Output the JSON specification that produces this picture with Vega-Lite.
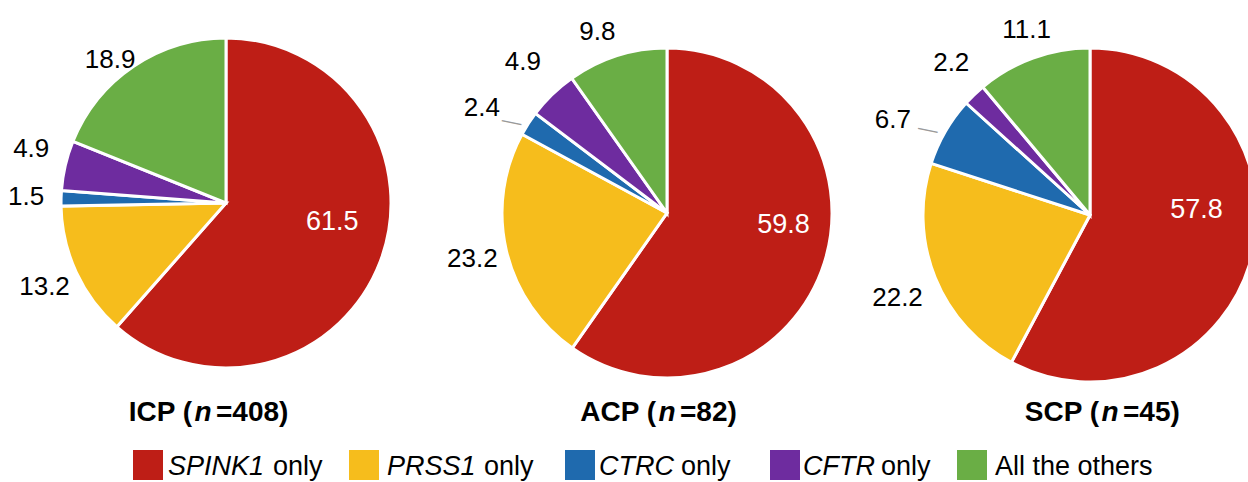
{
  "$schema": "https://vega.github.io/schema/vega-lite/v6.json",
  "padding": 0,
  "background": "white",
  "spacing": 0,
  "config": {"view": {"stroke": null}, "font": "Liberation Sans"},
  "datasets": {
    "shares": [
      {"group": "ICP", "category": "SPINK1 only", "value": 61.5, "rank": 1},
      {"group": "ICP", "category": "PRSS1 only", "value": 13.2, "rank": 2},
      {"group": "ICP", "category": "CTRC only", "value": 1.5, "rank": 3},
      {"group": "ICP", "category": "CFTR only", "value": 4.9, "rank": 4},
      {"group": "ICP", "category": "All the others", "value": 18.9, "rank": 5},
      {"group": "ACP", "category": "SPINK1 only", "value": 59.8, "rank": 1},
      {"group": "ACP", "category": "PRSS1 only", "value": 23.2, "rank": 2},
      {"group": "ACP", "category": "CTRC only", "value": 2.4, "rank": 3},
      {"group": "ACP", "category": "CFTR only", "value": 4.9, "rank": 4},
      {"group": "ACP", "category": "All the others", "value": 9.8, "rank": 5},
      {"group": "SCP", "category": "SPINK1 only", "value": 57.8, "rank": 1},
      {"group": "SCP", "category": "PRSS1 only", "value": 22.2, "rank": 2},
      {"group": "SCP", "category": "CTRC only", "value": 6.7, "rank": 3},
      {"group": "SCP", "category": "CFTR only", "value": 2.2, "rank": 4},
      {"group": "SCP", "category": "All the others", "value": 11.1, "rank": 5}
    ],
    "titles": [
      {"group": "ICP", "head": "ICP (", "var": "n", "tail": "=408)"},
      {"group": "ACP", "head": "ACP (", "var": "n", "tail": "=82)"},
      {"group": "SCP", "head": "SCP (", "var": "n", "tail": "=45)"}
    ],
    "legend": [
      {"category": "SPINK1 only", "gene": "SPINK1", "suffix": "only"},
      {"category": "PRSS1 only", "gene": "PRSS1", "suffix": "only"},
      {"category": "CTRC only", "gene": "CTRC", "suffix": "only"},
      {"category": "CFTR only", "gene": "CFTR", "suffix": "only"},
      {"category": "All the others", "gene": "", "suffix": "All the others"}
    ]
  },
  "vconcat": [
    {
      "spacing": 0,
      "bounds": "flush",
      "resolve": {"scale": {"theta": "independent"}},
      "hconcat": [
        {
          "width": 452, "height": 430,
          "layer": [
            {"data": {"name": "shares"}, "transform": [{"filter": "datum.group === 'ICP'"}],
             "mark": {"type": "arc", "outerRadius": 165, "stroke": "white", "strokeWidth": 3, "yOffset": -12},
             "encoding": {"theta": {"field": "value", "type": "quantitative", "stack": true}, "order": {"field": "rank", "type": "quantitative"},
               "color": {"field": "category", "type": "nominal", "legend": null, "scale": {"domain": ["SPINK1 only", "PRSS1 only", "CTRC only", "CFTR only", "All the others"], "range": ["#BE1E16", "#F6BD1C", "#1F6AAE", "#6E2C9F", "#6AAE45"]}}}},
            {"data": {"name": "shares"}, "transform": [{"filter": "datum.group === 'ICP'"}],
             "mark": {"type": "text", "radius": 200, "fontSize": 26, "yOffset": -12},
             "encoding": {"theta": {"field": "value", "type": "quantitative", "stack": true}, "order": {"field": "rank", "type": "quantitative"}, "detail": {"field": "category", "type": "nominal"},
               "text": {"field": "value", "type": "quantitative", "format": ".1f"}, "color": {"value": "#000000"},
               "opacity": {"condition": {"test": "datum.category === 'PRSS1 only' || datum.category === 'CTRC only'", "value": 1}, "value": 0}}},
            {"data": {"name": "shares"}, "transform": [{"filter": "datum.group === 'ICP'"}],
             "mark": {"type": "text", "radius": 200, "fontSize": 26, "yOffset": -12, "dy": -9},
             "encoding": {"theta": {"field": "value", "type": "quantitative", "stack": true}, "order": {"field": "rank", "type": "quantitative"}, "detail": {"field": "category", "type": "nominal"},
               "text": {"field": "value", "type": "quantitative", "format": ".1f"}, "color": {"value": "#000000"},
               "opacity": {"condition": {"test": "datum.category === 'CFTR only'", "value": 1}, "value": 0}}},
            {"data": {"name": "shares"}, "transform": [{"filter": "datum.group === 'ICP'"}],
             "mark": {"type": "text", "radius": 200, "fontSize": 26, "yOffset": -12, "dx": -4, "dy": 23},
             "encoding": {"theta": {"field": "value", "type": "quantitative", "stack": true}, "order": {"field": "rank", "type": "quantitative"}, "detail": {"field": "category", "type": "nominal"},
               "text": {"field": "value", "type": "quantitative", "format": ".1f"}, "color": {"value": "#000000"},
               "opacity": {"condition": {"test": "datum.category === 'All the others'", "value": 1}, "value": 0}}},
            {"data": {"name": "shares"}, "transform": [{"filter": "datum.group === 'ICP'"}],
             "mark": {"type": "text", "radius": 120, "fontSize": 27, "yOffset": -12, "dx": -6, "dy": -23},
             "encoding": {"theta": {"field": "value", "type": "quantitative", "stack": true}, "order": {"field": "rank", "type": "quantitative"}, "detail": {"field": "category", "type": "nominal"},
               "text": {"field": "value", "type": "quantitative", "format": ".1f"}, "color": {"value": "#ffffff"},
               "opacity": {"condition": {"test": "datum.category === 'SPINK1 only'", "value": 1}, "value": 0}}},
            {"data": {"name": "titles"}, "transform": [{"filter": "datum.group === 'ICP'"}],
             "mark": {"type": "text", "fontSize": 28, "fontWeight": "bold", "align": "right", "baseline": "alphabetic", "dx": -34, "dy": 206},
             "encoding": {"text": {"field": "head", "type": "nominal"}}},
            {"data": {"name": "titles"}, "transform": [{"filter": "datum.group === 'ICP'"}],
             "mark": {"type": "text", "fontSize": 28, "fontWeight": "bold", "fontStyle": "italic", "align": "center", "baseline": "alphabetic", "dx": -23, "dy": 206},
             "encoding": {"text": {"field": "var", "type": "nominal"}}},
            {"data": {"name": "titles"}, "transform": [{"filter": "datum.group === 'ICP'"}],
             "mark": {"type": "text", "fontSize": 28, "fontWeight": "bold", "align": "left", "baseline": "alphabetic", "dx": -10, "dy": 206},
             "encoding": {"text": {"field": "tail", "type": "nominal"}}}
          ]
        },
        {
          "width": 430, "height": 430,
          "layer": [
            {"data": {"name": "shares"}, "transform": [{"filter": "datum.group === 'ACP'"}],
             "mark": {"type": "arc", "outerRadius": 165, "stroke": "white", "strokeWidth": 3, "yOffset": -2},
             "encoding": {"theta": {"field": "value", "type": "quantitative", "stack": true}, "order": {"field": "rank", "type": "quantitative"},
               "color": {"field": "category", "type": "nominal", "legend": null, "scale": {"domain": ["SPINK1 only", "PRSS1 only", "CTRC only", "CFTR only", "All the others"], "range": ["#BE1E16", "#F6BD1C", "#1F6AAE", "#6E2C9F", "#6AAE45"]}}}},
            {"data": {"name": "shares"}, "transform": [{"filter": "datum.group === 'ACP'"}],
             "mark": {"type": "text", "radius": 200, "fontSize": 26, "yOffset": -2},
             "encoding": {"theta": {"field": "value", "type": "quantitative", "stack": true}, "order": {"field": "rank", "type": "quantitative"}, "detail": {"field": "category", "type": "nominal"},
               "text": {"field": "value", "type": "quantitative", "format": ".1f"}, "color": {"value": "#000000"},
               "opacity": {"condition": {"test": "datum.category === 'PRSS1 only'", "value": 1}, "value": 0}}},
            {"data": {"name": "shares"}, "transform": [{"filter": "datum.group === 'ACP'"}],
             "mark": {"type": "text", "radius": 200, "fontSize": 26, "yOffset": -2, "dx": -17, "dy": 3},
             "encoding": {"theta": {"field": "value", "type": "quantitative", "stack": true}, "order": {"field": "rank", "type": "quantitative"}, "detail": {"field": "category", "type": "nominal"},
               "text": {"field": "value", "type": "quantitative", "format": ".1f"}, "color": {"value": "#000000"},
               "opacity": {"condition": {"test": "datum.category === 'CTRC only'", "value": 1}, "value": 0}}},
            {"data": {"name": "shares"}, "transform": [{"filter": "datum.group === 'ACP'"}],
             "mark": {"type": "text", "radius": 200, "fontSize": 20, "yOffset": -2, "dx": 16, "dy": 14, "angle": 12, "text": "—"},
             "encoding": {"theta": {"field": "value", "type": "quantitative", "stack": true}, "order": {"field": "rank", "type": "quantitative"}, "detail": {"field": "category", "type": "nominal"},
               "color": {"value": "#9a9a9a"},
               "opacity": {"condition": {"test": "datum.category === 'CTRC only'", "value": 1}, "value": 0}}},
            {"data": {"name": "shares"}, "transform": [{"filter": "datum.group === 'ACP'"}],
             "mark": {"type": "text", "radius": 200, "fontSize": 26, "yOffset": -2, "dx": -5, "dy": -7},
             "encoding": {"theta": {"field": "value", "type": "quantitative", "stack": true}, "order": {"field": "rank", "type": "quantitative"}, "detail": {"field": "category", "type": "nominal"},
               "text": {"field": "value", "type": "quantitative", "format": ".1f"}, "color": {"value": "#000000"},
               "opacity": {"condition": {"test": "datum.category === 'CFTR only'", "value": 1}, "value": 0}}},
            {"data": {"name": "shares"}, "transform": [{"filter": "datum.group === 'ACP'"}],
             "mark": {"type": "text", "radius": 200, "fontSize": 26, "yOffset": -2, "dx": -9, "dy": 10},
             "encoding": {"theta": {"field": "value", "type": "quantitative", "stack": true}, "order": {"field": "rank", "type": "quantitative"}, "detail": {"field": "category", "type": "nominal"},
               "text": {"field": "value", "type": "quantitative", "format": ".1f"}, "color": {"value": "#000000"},
               "opacity": {"condition": {"test": "datum.category === 'All the others'", "value": 1}, "value": 0}}},
            {"data": {"name": "shares"}, "transform": [{"filter": "datum.group === 'ACP'"}],
             "mark": {"type": "text", "radius": 120, "fontSize": 27, "yOffset": -2, "dx": 2, "dy": -24},
             "encoding": {"theta": {"field": "value", "type": "quantitative", "stack": true}, "order": {"field": "rank", "type": "quantitative"}, "detail": {"field": "category", "type": "nominal"},
               "text": {"field": "value", "type": "quantitative", "format": ".1f"}, "color": {"value": "#ffffff"},
               "opacity": {"condition": {"test": "datum.category === 'SPINK1 only'", "value": 1}, "value": 0}}},
            {"data": {"name": "titles"}, "transform": [{"filter": "datum.group === 'ACP'"}],
             "mark": {"type": "text", "fontSize": 28, "fontWeight": "bold", "align": "right", "baseline": "alphabetic", "dx": -11, "dy": 206},
             "encoding": {"text": {"field": "head", "type": "nominal"}}},
            {"data": {"name": "titles"}, "transform": [{"filter": "datum.group === 'ACP'"}],
             "mark": {"type": "text", "fontSize": 28, "fontWeight": "bold", "fontStyle": "italic", "align": "center", "baseline": "alphabetic", "dx": 0, "dy": 206},
             "encoding": {"text": {"field": "var", "type": "nominal"}}},
            {"data": {"name": "titles"}, "transform": [{"filter": "datum.group === 'ACP'"}],
             "mark": {"type": "text", "fontSize": 28, "fontWeight": "bold", "align": "left", "baseline": "alphabetic", "dx": 13, "dy": 206},
             "encoding": {"text": {"field": "tail", "type": "nominal"}}}
          ]
        },
        {
          "width": 366, "height": 430,
          "layer": [
            {"data": {"name": "shares"}, "transform": [{"filter": "datum.group === 'SCP'"}],
             "mark": {"type": "arc", "outerRadius": 167, "stroke": "white", "strokeWidth": 3, "xOffset": 25, "yOffset": 0, "clip": true},
             "encoding": {"theta": {"field": "value", "type": "quantitative", "stack": true}, "order": {"field": "rank", "type": "quantitative"},
               "color": {"field": "category", "type": "nominal", "legend": null, "scale": {"domain": ["SPINK1 only", "PRSS1 only", "CTRC only", "CFTR only", "All the others"], "range": ["#BE1E16", "#F6BD1C", "#1F6AAE", "#6E2C9F", "#6AAE45"]}}}},
            {"data": {"name": "shares"}, "transform": [{"filter": "datum.group === 'SCP'"}],
             "mark": {"type": "text", "radius": 200, "fontSize": 26, "xOffset": 25, "yOffset": 0, "dx": -7, "dy": 8},
             "encoding": {"theta": {"field": "value", "type": "quantitative", "stack": true}, "order": {"field": "rank", "type": "quantitative"}, "detail": {"field": "category", "type": "nominal"},
               "text": {"field": "value", "type": "quantitative", "format": ".1f"}, "color": {"value": "#000000"},
               "opacity": {"condition": {"test": "datum.category === 'PRSS1 only'", "value": 1}, "value": 0}}},
            {"data": {"name": "shares"}, "transform": [{"filter": "datum.group === 'SCP'"}],
             "mark": {"type": "text", "radius": 200, "fontSize": 26, "xOffset": 25, "yOffset": 0, "dx": -24, "dy": 5},
             "encoding": {"theta": {"field": "value", "type": "quantitative", "stack": true}, "order": {"field": "rank", "type": "quantitative"}, "detail": {"field": "category", "type": "nominal"},
               "text": {"field": "value", "type": "quantitative", "format": ".1f"}, "color": {"value": "#000000"},
               "opacity": {"condition": {"test": "datum.category === 'CTRC only'", "value": 1}, "value": 0}}},
            {"data": {"name": "shares"}, "transform": [{"filter": "datum.group === 'SCP'"}],
             "mark": {"type": "text", "radius": 200, "fontSize": 20, "xOffset": 25, "yOffset": 0, "dx": 14, "dy": 12, "angle": 12, "text": "—"},
             "encoding": {"theta": {"field": "value", "type": "quantitative", "stack": true}, "order": {"field": "rank", "type": "quantitative"}, "detail": {"field": "category", "type": "nominal"},
               "color": {"value": "#9a9a9a"},
               "opacity": {"condition": {"test": "datum.category === 'CTRC only'", "value": 1}, "value": 0}}},
            {"data": {"name": "shares"}, "transform": [{"filter": "datum.group === 'SCP'"}],
             "mark": {"type": "text", "radius": 200, "fontSize": 26, "xOffset": 25, "yOffset": 0, "dx": 0, "dy": -8},
             "encoding": {"theta": {"field": "value", "type": "quantitative", "stack": true}, "order": {"field": "rank", "type": "quantitative"}, "detail": {"field": "category", "type": "nominal"},
               "text": {"field": "value", "type": "quantitative", "format": ".1f"}, "color": {"value": "#000000"},
               "opacity": {"condition": {"test": "datum.category === 'CFTR only'", "value": 1}, "value": 0}}},
            {"data": {"name": "shares"}, "transform": [{"filter": "datum.group === 'SCP'"}],
             "mark": {"type": "text", "radius": 200, "fontSize": 26, "xOffset": 25, "yOffset": 0, "dx": 5, "dy": 3},
             "encoding": {"theta": {"field": "value", "type": "quantitative", "stack": true}, "order": {"field": "rank", "type": "quantitative"}, "detail": {"field": "category", "type": "nominal"},
               "text": {"field": "value", "type": "quantitative", "format": ".1f"}, "color": {"value": "#000000"},
               "opacity": {"condition": {"test": "datum.category === 'All the others'", "value": 1}, "value": 0}}},
            {"data": {"name": "shares"}, "transform": [{"filter": "datum.group === 'SCP'"}],
             "mark": {"type": "text", "radius": 120, "fontSize": 27, "xOffset": 25, "yOffset": 0, "dx": -10, "dy": -34},
             "encoding": {"theta": {"field": "value", "type": "quantitative", "stack": true}, "order": {"field": "rank", "type": "quantitative"}, "detail": {"field": "category", "type": "nominal"},
               "text": {"field": "value", "type": "quantitative", "format": ".1f"}, "color": {"value": "#ffffff"},
               "opacity": {"condition": {"test": "datum.category === 'SPINK1 only'", "value": 1}, "value": 0}}},
            {"data": {"name": "titles"}, "transform": [{"filter": "datum.group === 'SCP'"}],
             "mark": {"type": "text", "fontSize": 28, "fontWeight": "bold", "align": "right", "baseline": "alphabetic", "dx": 34, "dy": 206},
             "encoding": {"text": {"field": "head", "type": "nominal"}}},
            {"data": {"name": "titles"}, "transform": [{"filter": "datum.group === 'SCP'"}],
             "mark": {"type": "text", "fontSize": 28, "fontWeight": "bold", "fontStyle": "italic", "align": "center", "baseline": "alphabetic", "dx": 45, "dy": 206},
             "encoding": {"text": {"field": "var", "type": "nominal"}}},
            {"data": {"name": "titles"}, "transform": [{"filter": "datum.group === 'SCP'"}],
             "mark": {"type": "text", "fontSize": 28, "fontWeight": "bold", "align": "left", "baseline": "alphabetic", "dx": 58, "dy": 206},
             "encoding": {"text": {"field": "tail", "type": "nominal"}}}
          ]
        }
      ]
    },
    {
      "width": 1248, "height": 52,
      "data": {"name": "legend"},
      "layer": [
        {"transform": [{"filter": "datum.category === 'SPINK1 only'"}], "mark": {"type": "point", "shape": "square", "filled": true, "opacity": 1, "size": 900, "xOffset": -476, "yOffset": 9},
         "encoding": {"color": {"field": "category", "type": "nominal", "legend": null, "scale": {"domain": ["SPINK1 only", "PRSS1 only", "CTRC only", "CFTR only", "All the others"], "range": ["#BE1E16", "#F6BD1C", "#1F6AAE", "#6E2C9F", "#6AAE45"]}}}},
        {"transform": [{"filter": "datum.category === 'PRSS1 only'"}], "mark": {"type": "point", "shape": "square", "filled": true, "opacity": 1, "size": 900, "xOffset": -260, "yOffset": 9},
         "encoding": {"color": {"field": "category", "type": "nominal", "legend": null}}},
        {"transform": [{"filter": "datum.category === 'CTRC only'"}], "mark": {"type": "point", "shape": "square", "filled": true, "opacity": 1, "size": 900, "xOffset": -44, "yOffset": 9},
         "encoding": {"color": {"field": "category", "type": "nominal", "legend": null}}},
        {"transform": [{"filter": "datum.category === 'CFTR only'"}], "mark": {"type": "point", "shape": "square", "filled": true, "opacity": 1, "size": 900, "xOffset": 161, "yOffset": 9},
         "encoding": {"color": {"field": "category", "type": "nominal", "legend": null}}},
        {"transform": [{"filter": "datum.category === 'All the others'"}], "mark": {"type": "point", "shape": "square", "filled": true, "opacity": 1, "size": 900, "xOffset": 348, "yOffset": 9},
         "encoding": {"color": {"field": "category", "type": "nominal", "legend": null}}},
        {"transform": [{"filter": "datum.category === 'SPINK1 only'"}], "mark": {"type": "text", "fontSize": 27, "fontStyle": "italic", "align": "left", "baseline": "alphabetic", "dx": -456, "dy": 19}, "encoding": {"text": {"field": "gene", "type": "nominal"}}},
        {"transform": [{"filter": "datum.category === 'PRSS1 only'"}], "mark": {"type": "text", "fontSize": 27, "fontStyle": "italic", "align": "left", "baseline": "alphabetic", "dx": -237, "dy": 19}, "encoding": {"text": {"field": "gene", "type": "nominal"}}},
        {"transform": [{"filter": "datum.category === 'CTRC only'"}], "mark": {"type": "text", "fontSize": 27, "fontStyle": "italic", "align": "left", "baseline": "alphabetic", "dx": -25, "dy": 19}, "encoding": {"text": {"field": "gene", "type": "nominal"}}},
        {"transform": [{"filter": "datum.category === 'CFTR only'"}], "mark": {"type": "text", "fontSize": 27, "fontStyle": "italic", "align": "left", "baseline": "alphabetic", "dx": 179, "dy": 19}, "encoding": {"text": {"field": "gene", "type": "nominal"}}},
        {"transform": [{"filter": "datum.category === 'SPINK1 only'"}], "mark": {"type": "text", "fontSize": 27, "align": "left", "baseline": "alphabetic", "dx": -351, "dy": 19}, "encoding": {"text": {"field": "suffix", "type": "nominal"}}},
        {"transform": [{"filter": "datum.category === 'PRSS1 only'"}], "mark": {"type": "text", "fontSize": 27, "align": "left", "baseline": "alphabetic", "dx": -140, "dy": 19}, "encoding": {"text": {"field": "suffix", "type": "nominal"}}},
        {"transform": [{"filter": "datum.category === 'CTRC only'"}], "mark": {"type": "text", "fontSize": 27, "align": "left", "baseline": "alphabetic", "dx": 57, "dy": 19}, "encoding": {"text": {"field": "suffix", "type": "nominal"}}},
        {"transform": [{"filter": "datum.category === 'CFTR only'"}], "mark": {"type": "text", "fontSize": 27, "align": "left", "baseline": "alphabetic", "dx": 257, "dy": 19}, "encoding": {"text": {"field": "suffix", "type": "nominal"}}},
        {"transform": [{"filter": "datum.category === 'All the others'"}], "mark": {"type": "text", "fontSize": 27, "align": "left", "baseline": "alphabetic", "dx": 371, "dy": 19}, "encoding": {"text": {"field": "suffix", "type": "nominal"}}}
      ]
    }
  ]
}
